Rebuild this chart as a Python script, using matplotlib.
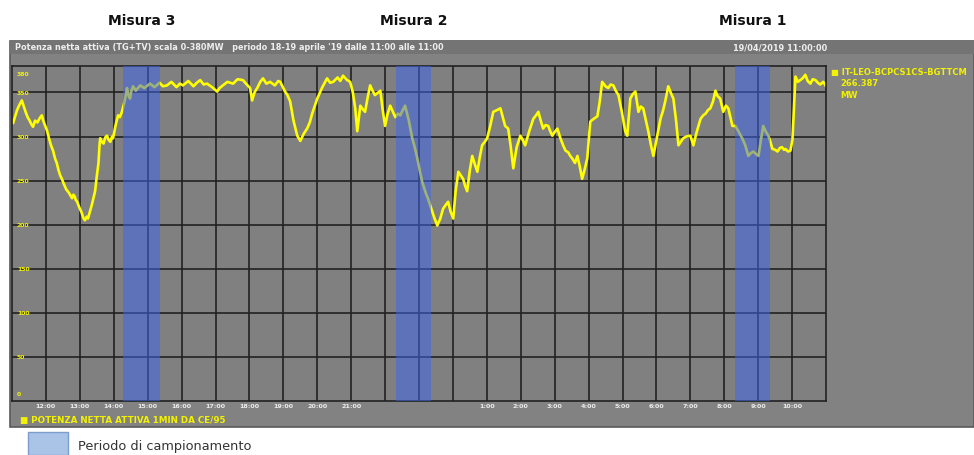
import matplotlib
matplotlib.use("Agg")
import matplotlib.pyplot as plt
from matplotlib.patches import Rectangle
from matplotlib.transforms import blended_transform_factory

# Net active power, one sample per trace vertex (hours after 11:00, MW)
hours = [0.00, 0.03, 0.10, 0.15, 0.22, 0.29, 0.35, 0.40, 0.46, 0.52, 0.57,
         0.62, 0.68, 0.75, 0.82, 0.88, 0.92, 0.95, 1.00, 1.03, 1.09, 1.15,
         1.21, 1.27, 1.32, 1.37, 1.42, 1.47, 1.53, 1.60, 1.68, 1.77, 1.81,
         1.85, 1.88, 1.92, 1.98, 2.05, 2.10, 2.15, 2.20, 2.24, 2.30, 2.35,
         2.40, 2.45, 2.50, 2.55, 2.58, 2.60, 2.65, 2.70, 2.75, 2.80, 2.85,
         2.90, 2.95, 2.98, 3.05, 3.10, 3.13, 3.18, 3.24, 3.28, 3.32, 3.36,
         3.39, 3.44, 3.48, 3.52, 3.57, 3.65, 3.78, 3.90, 4.07, 4.20, 4.35,
         4.45, 4.57, 4.70, 4.85, 4.95, 5.04, 5.20, 5.35, 5.45, 5.55, 5.65,
         5.75, 5.90, 6.05, 6.12, 6.22, 6.35, 6.52, 6.65, 6.81, 6.92, 7.02,
         7.08, 7.15, 7.23, 7.32, 7.40, 7.50, 7.61, 7.75, 7.85, 7.91, 8.05,
         8.12, 8.20, 8.30, 8.41, 8.50, 8.60, 8.70, 8.78, 8.85, 9.00, 9.08,
         9.15, 9.29, 9.38, 9.47, 9.60, 9.68, 9.76, 9.88, 9.97, 10.05, 10.12,
         10.18, 10.27, 10.34, 10.41, 10.49, 10.56, 10.63, 10.70, 10.80, 10.86,
         10.93, 11.00, 11.07, 11.15, 11.22, 11.30, 11.38, 11.45, 11.52, 11.59,
         11.65, 11.70, 11.80, 11.88, 11.95, 12.02, 12.09, 12.15, 12.20, 12.27,
         12.33, 12.40, 12.45, 12.54, 12.58, 12.62, 12.71, 12.78, 12.86, 12.93,
         13.01, 13.08, 13.16, 13.23, 13.30, 13.36, 13.42, 13.50, 13.57, 13.65,
         13.72, 13.79, 13.86, 13.94, 14.01, 14.10, 14.19, 14.30, 14.40, 14.47,
         14.54, 14.63, 14.70, 14.78, 14.88, 14.99, 15.06, 15.13, 15.25, 15.37,
         15.45, 15.52, 15.59, 15.66, 15.73, 15.81, 15.87, 15.93, 16.00, 16.08,
         16.17, 16.25, 16.32, 16.40, 16.46, 16.52, 16.60, 16.67, 16.74, 16.81,
         16.88, 16.96, 17.05, 17.15, 17.26, 17.33, 17.40, 17.50, 17.58, 17.65,
         17.73, 17.80, 17.88, 17.98, 18.08, 18.14, 18.23, 18.30, 18.38, 18.47,
         18.54, 18.61, 18.68, 18.76, 18.84, 18.91, 19.00, 19.12, 19.20, 19.26,
         19.35, 19.42, 19.50, 19.58, 19.65, 19.72, 19.79, 19.88, 20.00, 20.09,
         20.18, 20.30, 20.38, 20.45, 20.52, 20.59, 20.67, 20.74, 20.80, 20.88,
         20.97, 21.05, 21.12, 21.18, 21.24, 21.33, 21.43, 21.53, 21.62, 21.71,
         21.78, 21.86, 21.94, 22.01, 22.08, 22.15, 22.22, 22.30, 22.36, 22.42,
         22.50, 22.57, 22.64, 22.70, 22.76, 22.80, 22.88, 22.95, 23.01, 23.04,
         23.10, 23.17, 23.24, 23.31, 23.39, 23.46, 23.54, 23.61, 23.69, 23.76,
         23.83, 23.92, 24.00]
mw = [318, 315, 324, 330, 336, 341, 334, 328, 322, 318, 314,
      311, 318, 316, 321, 324, 318, 315, 310, 307, 298, 290,
      284, 275, 270, 262, 256, 252, 246, 240, 236, 230, 234,
      232, 228, 226, 220, 214, 208, 205, 209, 207, 215, 222,
      230, 238, 255, 270, 290, 298, 294, 292, 299, 301, 296,
      294, 300, 298, 312, 320, 324, 322, 328, 334, 340, 348,
      355, 346, 343, 352, 357, 352, 358, 355, 360, 356, 361,
      357, 358, 362, 356, 360, 358, 363, 357, 361, 364, 359,
      360, 356, 351, 355, 358, 362, 360, 365, 364, 359, 355,
      341, 350, 355, 362, 366, 360, 362, 358, 363, 362, 351,
      347, 340, 318, 301, 295, 303, 309, 316, 326, 343, 350,
      356, 366, 361, 362, 367, 363, 369, 364, 362, 350, 332,
      306, 335, 331, 328, 345, 358, 352, 347, 350, 352,
      330, 312, 325, 335, 329, 322, 326, 324, 330, 335,
      326, 318, 298, 287, 275, 262, 249, 242, 236, 229,
      222, 214, 208, 199, 203, 206, 218, 222, 226, 215,
      207, 238, 260, 256, 252, 244, 238, 262, 278, 268,
      260, 276, 290, 294, 298, 312, 328, 330, 332, 322,
      312, 309, 290, 264, 288, 301, 296, 290, 306, 320,
      324, 328, 318, 309, 313, 312, 306, 301, 305, 309,
      298, 290, 284, 282, 278, 275, 270, 278, 266, 252,
      262, 275, 317, 320, 323, 340, 362, 357, 355, 359,
      358, 352, 347, 328, 306, 301, 343, 348, 351, 328,
      334, 332, 320, 306, 290, 278, 296, 320, 330, 340,
      357, 350, 343, 318, 290, 294, 298, 300, 301, 290,
      304, 320, 324, 326, 330, 332, 340, 352, 346, 343,
      328, 335, 332, 322, 312, 312, 305, 298, 290, 278,
      281, 283, 280, 278, 296, 312, 306, 301, 294, 286,
      285, 283, 287, 288, 285, 286, 283, 284, 296, 320,
      368, 362, 364, 366, 370, 363, 360, 365, 364, 361,
      359, 362, 357]

# Sampling windows (hours after 11:00) and their captions
bands = [(3.27, 4.35), (11.33, 12.36), (21.33, 22.36)]
band_titles = ["Misura 3", "Misura 2", "Misura 1"]

y_tick_values = [0, 50, 100, 150, 200, 250, 300, 350, 380]
x_tick_hours = [1, 2, 3, 4, 5, 6, 7, 8, 9, 10,
                14, 15, 16, 17, 18, 19, 20, 21, 22, 23]
x_tick_labels = ["12:00", "13:00", "14:00", "15:00", "16:00", "17:00",
                 "18:00", "19:00", "20:00", "21:00",
                 "1:00", "2:00", "3:00", "4:00", "5:00", "6:00", "7:00",
                 "8:00", "9:00", "10:00"]

W, H = 974, 456
fig = plt.figure(figsize=(W / 100, H / 100), dpi=100)
fig.patch.set_facecolor("white")


def fx(px):
    return px / W


def fy(py):
    return 1 - py / H


# trend-viewer panel
fig.patches.append(Rectangle((fx(10), fy(428)), fx(964), (428 - 42) / H,
                             transform=fig.transFigure, facecolor="#828282",
                             edgecolor="#5a5a5a", lw=1.2, zorder=-2))
fig.patches.append(Rectangle((fx(10), fy(55)), fx(964), 13 / H,
                             transform=fig.transFigure, facecolor="#747474",
                             edgecolor="none", zorder=-1))

fig.text(fx(15), fy(48), "Potenza netta attiva (TG+TV) scala 0-380MW   periodo 18-19 aprile '19 dalle 11:00 alle 11:00",
         color="#eeeeee", fontsize=5.9, fontweight="bold", va="center", ha="left")
fig.text(fx(780), fy(48), "19/04/2019 11:00:00", color="#eeeeee",
         fontsize=5.9, fontweight="bold", va="center", ha="center")

ax = fig.add_axes([fx(12), fy(402), fx(814), (402 - 67) / H])
ax.set_zorder(2)
ax.set_facecolor("#808080")
ax.set_xlim(0, 24)
ax.set_ylim(0, 380)

for h in range(1, 24):
    ax.axvline(h, color="#222222", lw=1.2, zorder=1)
for v in range(50, 380, 50):
    ax.axhline(v, color="#222222", lw=1.2, zorder=1)

ax.plot(hours, mw, color="#ffff00", lw=1.9, zorder=2, solid_joinstyle="round")

for (a, b) in bands:
    ax.axvspan(a, b, facecolor="#3e66f2", alpha=0.5, lw=0, zorder=3)

for s in ax.spines.values():
    s.set_color("#222222")
    s.set_linewidth(1.2)
ax.set_xticks([])
ax.set_yticks([])

# value labels sit inside the plot on the left edge
ytr = blended_transform_factory(ax.transAxes, ax.transData)
for v in y_tick_values:
    yy = v if v not in (0, 380) else (8 if v == 0 else 372)
    ax.text(0.006, yy, str(v), transform=ytr, color="#f2f200", fontsize=4.4,
            fontweight="bold", va="center", ha="left", zorder=4)

# time labels under the plot
xtr = blended_transform_factory(ax.transData, fig.transFigure)
for h, lab in zip(x_tick_hours, x_tick_labels):
    ax.text(h, fy(407), lab, transform=xtr, color="#eeeeee", fontsize=4.6,
            fontweight="bold", va="center", ha="center", clip_on=False)

for (a, b), t in zip(bands, band_titles):
    ax.text((a + b) / 2, fy(21), t, transform=xtr, color="#111111",
            fontsize=10, fontweight="bold", va="center", ha="center",
            clip_on=False)

fig.text(fx(20), fy(421), "\u25a0 POTENZA NETTA ATTIVA 1MIN DA CE/95",
         color="#f2f200", fontsize=6.3, fontweight="bold", va="center", ha="left")

fig.text(fx(831), fy(72), "\u25a0 IT-LEO-BCPCS1CS-BGTTCM", color="#f2f200",
         fontsize=6.0, fontweight="bold", va="center", ha="left")
fig.text(fx(840), fy(84), "266.387", color="#f2f200",
         fontsize=6.0, fontweight="bold", va="center", ha="left")
fig.text(fx(840), fy(95), "MW", color="#f2f200",
         fontsize=6.0, fontweight="bold", va="center", ha="left")

# legend for the shaded windows
fig.patches.append(Rectangle((fx(28), fy(456)), fx(40), 23 / H,
                             transform=fig.transFigure, facecolor="#aac4e8",
                             edgecolor="#7e9ccc", lw=1, zorder=1))
fig.text(fx(78), fy(447), "Periodo di campionamento", color="#333333",
         fontsize=9.3, va="center", ha="left")

fig.savefig("out.png", dpi=100, facecolor="white")
